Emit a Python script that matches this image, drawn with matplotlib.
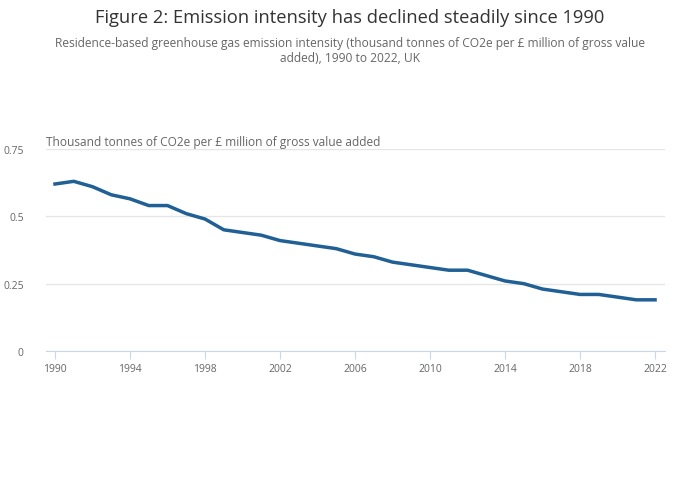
import matplotlib.pyplot as plt

years = list(range(1990, 2023))
intensity = [0.62, 0.63, 0.61, 0.58, 0.565, 0.54, 0.54, 0.51, 0.49, 0.45,
             0.44, 0.43, 0.41, 0.40, 0.39, 0.38, 0.36, 0.35, 0.33, 0.32,
             0.31, 0.30, 0.30, 0.28, 0.26, 0.25, 0.23, 0.22, 0.21, 0.21,
             0.20, 0.19, 0.19]
y_ticks = [0, 0.25, 0.5, 0.75]
y_tick_labels = ["0", "0.25", "0.5", "0.75"]
x_ticks = list(range(1990, 2023, 4))

plt.rcParams['font.family'] = ['Open Sans', 'DejaVu Sans']

fig = plt.figure(figsize=(7, 5.02), dpi=100)
ax = fig.add_axes([46/700, 1 - 352/502, (665 - 46)/700, 202/502])

ax.plot(years, intensity, color='#206095', linewidth=2.5, solid_joinstyle='round')

ax.set_xlim(1989.52, 2022.53)
ax.set_ylim(0, 0.75)
ax.set_yticks(y_ticks)
ax.set_yticklabels(y_tick_labels)
ax.set_xticks(x_ticks)
ax.grid(axis='y', color='#e6e6e6', linewidth=1)
ax.set_axisbelow(True)
for s in ['top', 'right', 'left']:
    ax.spines[s].set_visible(False)
ax.spines['bottom'].set_color('#ccd6eb')
ax.tick_params(axis='y', length=0, pad=16, labelsize=7.5, labelcolor='#666666')
ax.tick_params(axis='x', length=6, color='#ccd6eb', pad=3, labelsize=7.5, labelcolor='#666666')

fig.text(0.5, 1 - 18/502, "Figure 2: Emission intensity has declined steadily since 1990",
         ha='center', va='center', fontsize=13.2, color='#333333')
fig.text(0.5, 1 - 51/502,
         "Residence-based greenhouse gas emission intensity (thousand tonnes of CO2e per £ million of gross value\nadded), 1990 to 2022, UK",
         ha='center', va='center', fontsize=8.65, color='#666666', linespacing=1.2)
fig.text(46/700, 1 - 143/502, "Thousand tonnes of CO2e per £ million of gross value added",
         ha='left', va='center', fontsize=8.6, color='#666666')

fig.savefig('out.png', dpi=100)
